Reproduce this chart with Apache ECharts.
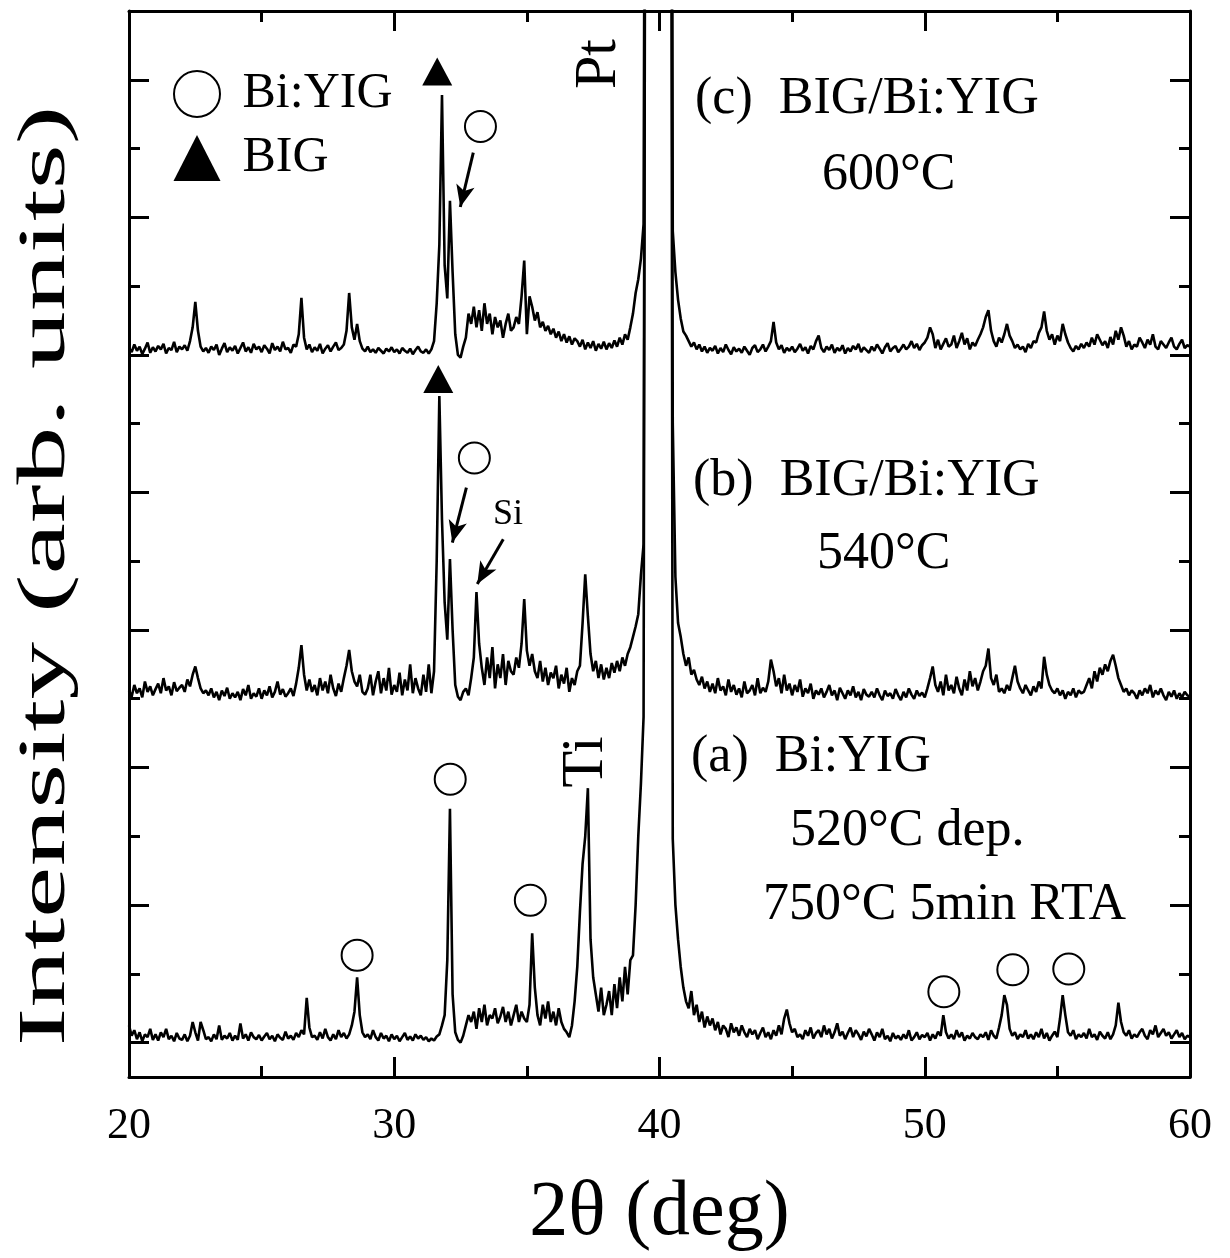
<!DOCTYPE html>
<html lang="en">
<head>
<meta charset="UTF-8" />
<title>XRD patterns</title>
<script src="https://cdn.jsdelivr.net/npm/echarts@6/dist/echarts.min.js"></script>
<style>
  html, body { margin: 0; background: #fff; }
  #chart { width: 1230px; height: 1258px; }
</style>
</head>
<body>
<div id="chart"></div>
<script>
// scan grid: 20.0 .. 60.0 deg, 0.1 deg per point (one row = 1 deg)
var angleStart = 20;
var angleStep = 0.1;

// (c) BIG/Bi:YIG 600C  (offset trace, arb. units, 100 = one tick)
var traceC = [
  1010,1004,1015,1006,1012,1001,1009,1018,1003,1011,
  1005,1013,1008,1016,1002,1010,1007,1019,1004,1012,
  1008,1014,1006,1020,1040,1077,1035,1012,1005,1010,
  1003,1012,1007,1015,1000,1009,1017,1004,1011,1006,
  1013,1002,1010,1018,1005,1011,1003,1016,1008,1012,
  1004,1014,1009,1002,1017,1007,1012,1005,1019,1008,
  1010,1003,1015,1012,1030,1083,1025,1008,1015,1004,
  1011,1006,1016,1002,1009,1014,1005,1012,1018,1007,
  1010,1015,1035,1090,1040,1022,1045,1020,1009,1005,
  1012,1004,1008,1003,1010,1006,1002,1009,1005,1011,
  1004,1008,1002,1010,1006,1003,1009,1001,1007,1012,
  1005,1003,1008,1002,1008,1020,1075,1160,1378,1130,
  1082,1224,1120,1030,1000,996,1012,1025,1060,1045,
  1070,1040,1065,1035,1075,1045,1060,1030,1055,1040,
  1050,1025,1045,1060,1035,1040,1055,1045,1085,1137,
  1030,1085,1070,1050,1062,1040,1048,1035,1042,1030,
  1038,1025,1034,1020,1030,1018,1027,1015,1024,1020,
  1012,1022,1008,1018,1010,1020,1006,1016,1009,1019,
  1008,1017,1010,1021,1012,1025,1015,1030,1022,1040,
  1060,1090,1110,1140,1190,2600,5200,8000,9500,10000,
  9800,9000,7500,5500,3000,1180,1120,1080,1053,1034,
  1028,1020,1012,1018,1008,1015,1005,1012,1003,1010,
  1006,1013,1002,1010,1004,1015,1007,1001,1011,1005,
  1009,1003,1012,1006,1000,1010,1014,1004,1008,1015,
  1005,1012,1020,1048,1018,1008,1014,1003,1010,1006,
  1012,1004,1009,1016,1006,1011,1002,1013,1008,1020,
  1028,1010,1004,1012,1007,1015,1003,1010,1006,1014,
  1002,1010,1005,1013,1008,1016,1004,1011,1007,1003,
  1012,1006,1015,1009,1002,1011,1017,1005,1010,1013,
  1004,1009,1015,1008,1012,1020,1010,1016,1007,1014,
  1018,1025,1040,1030,1010,1022,1008,1016,1024,1012,
  1015,1028,1010,1020,1032,1015,1024,1008,1018,1013,
  1022,1030,1040,1055,1065,1035,1020,1012,1025,1018,
  1030,1045,1028,1020,1010,1015,1008,1012,1004,1016,
  1010,1020,1018,1032,1040,1063,1035,1022,1030,1015,
  1028,1020,1045,1030,1018,1010,1005,1013,1008,1016,
  1010,1018,1012,1025,1015,1030,1022,1014,1020,1010,
  1026,1015,1035,1022,1040,1028,1012,1020,1008,1015,
  1012,1025,1018,1010,1022,1015,1030,1012,1008,1020,
  1015,1010,1018,1025,1012,1008,1016,1022,1010,1014,
  1012
];

// (b) BIG/Bi:YIG 540C
var traceB = [
  512,503,520,508,515,502,525,510,518,505,
  514,522,508,530,512,518,505,524,511,516,
  520,510,528,518,535,547,530,515,508,512,
  505,515,502,510,498,512,504,516,500,508,
  502,510,498,514,505,520,500,508,503,515,
  500,512,505,518,502,510,525,506,514,503,
  508,515,504,522,545,578,535,512,528,510,
  520,505,530,512,525,508,535,515,504,522,
  510,530,548,571,540,525,518,535,510,506,
  515,535,505,525,540,508,530,512,545,506,
  520,510,538,505,528,512,550,508,530,515,
  505,535,510,550,508,540,700,940,760,640,
  586,703,600,520,503,498,510,515,505,530,
  560,655,580,545,520,560,530,575,515,550,
  530,565,520,555,540,535,560,545,580,645,
  570,548,565,540,530,555,525,545,520,538,
  530,548,515,535,522,545,510,530,520,540,
  548,610,681,620,565,540,555,530,550,528,
  545,530,552,538,555,540,560,548,565,575,
  590,605,623,680,725,2600,5200,8000,9500,10000,
  9800,9000,7500,5500,3000,900,677,610,590,565,
  548,560,535,542,528,520,532,515,525,510,
  522,508,530,512,518,505,528,510,520,506,
  515,502,525,508,512,520,505,530,508,516,
  510,525,557,540,518,530,508,535,512,522,
  505,520,510,528,503,515,508,522,500,512,
  506,515,502,510,520,505,512,498,516,508,
  500,512,505,518,502,510,498,514,506,503,
  510,502,515,505,498,512,504,508,500,514,
  505,498,510,502,515,506,500,512,504,509,
  502,515,530,547,520,510,525,505,535,512,
  520,508,532,515,505,528,512,540,518,530,
  512,525,540,548,573,530,520,535,510,515,
  508,520,512,530,548,525,515,508,520,512,
  505,518,510,525,515,561,535,520,512,508,
  515,505,512,500,510,505,515,502,512,508,
  510,520,530,515,540,525,545,535,550,540,
  555,564,548,530,520,510,515,505,512,508,
  500,512,505,515,508,520,502,512,506,515,
  505,498,510,503,512,500,508,502,510,505,
  503
];

// (a) Bi:YIG 520C dep. + 750C 5min RTA
var traceA = [
  25,10,18,5,15,2,12,8,20,4,
  12,3,15,8,20,5,10,2,14,6,
  4,12,2,10,30,15,3,30,18,5,
  8,2,12,5,25,4,10,6,14,3,
  10,4,28,6,12,3,15,8,5,11,
  3,9,14,5,10,2,12,7,4,16,
  6,10,4,14,8,18,12,65,22,8,
  10,4,15,6,20,8,3,12,5,18,
  8,14,6,12,25,45,95,40,15,8,
  12,5,18,8,3,14,6,10,2,12,
  5,10,2,8,14,4,9,3,12,6,
  10,4,8,2,6,3,9,12,25,40,
  120,340,70,15,4,0,10,25,40,30,
  45,20,50,30,55,25,40,35,50,28,
  38,52,30,45,25,40,55,30,45,35,
  30,55,159,80,40,25,55,35,60,30,
  45,25,50,30,20,15,8,25,60,110,
  190,260,300,370,150,95,70,45,80,40,
  55,75,40,85,50,95,60,110,70,120,
  127,200,300,377,474,2600,5200,8000,9500,10000,
  9800,9000,7500,5500,3000,296,200,150,110,80,
  60,50,75,40,55,30,45,22,38,25,
  35,18,30,12,25,20,8,28,15,22,
  10,25,15,8,20,12,18,5,14,22,
  8,15,5,18,10,25,12,35,48,28,
  15,20,8,12,5,18,10,22,6,14,
  18,8,25,12,20,6,15,28,10,16,
  5,14,22,8,18,12,4,16,9,20,
  12,3,15,8,20,5,10,2,14,6,
  10,4,12,6,18,3,8,15,5,11,
  8,14,3,12,6,16,10,40,15,6,
  12,5,18,8,15,3,10,6,14,8,
  5,12,8,15,4,18,10,6,22,40,
  69,55,20,10,15,5,12,8,18,6,
  12,5,15,8,20,6,14,3,10,16,
  8,35,69,40,15,10,18,5,12,8,
  14,6,20,8,12,4,16,10,6,15,
  5,12,25,58,30,15,10,18,6,12,
  8,15,20,10,5,18,12,25,8,14,
  20,10,15,6,12,18,8,14,5,10,
  8
];

// peak markers [2theta, intensity]
var biyigMarks = [[28.6, 127], [32.11, 383], [35.13, 207], [50.72, 74], [53.32, 106], [55.43, 107],
                  [33.02, 850], [33.25, 1332]];
var bigMarks = [[31.66, 965], [31.62, 1412]];

// arrows: [tail, tip]
var arrows = [
  [[32.98, 1294], [32.49, 1215]],
  [[32.72, 807], [32.19, 727]],
  [[34.11, 732], [33.13, 667]]
];

var xTicks = [20, 30, 40, 50, 60];
var yTicksLong = [0, 200, 400, 600, 800, 1000, 1200, 1400];
var yTicksShort = [100, 300, 500, 700, 900, 1100, 1300];

var serif = '"Liberation Serif", "Times New Roman", serif';

function toPoints(vals) {
  return vals.map(function (v, i) {
    return [+(angleStart + i * angleStep).toFixed(1), v];
  });
}

function yAx(pos, ticks, len, showLine) {
  return {
    type: 'value', position: pos, min: -50, max: 1500, offset: 0,
    axisLine: { show: showLine, onZero: false, lineStyle: { color: '#000', width: 3 } },
    axisTick: { show: true, inside: true, length: len, customValues: ticks,
                lineStyle: { color: '#000', width: 3 } },
    axisLabel: { show: false },
    splitLine: { show: false }
  };
}

function xAx(pos, labels) {
  return {
    type: 'value', position: pos, min: xTicks[0], max: xTicks[xTicks.length - 1], interval: 10,
    axisLine: { show: true, onZero: false, lineStyle: { color: '#000', width: 3 } },
    axisTick: { show: true, inside: true, length: 20, lineStyle: { color: '#000', width: 3 } },
    minorTick: { show: true, splitNumber: 2, length: 11, lineStyle: { color: '#000', width: 3 } },
    axisLabel: { show: labels, color: '#000', fontFamily: serif, fontSize: 44, margin: 27 },
    splitLine: { show: false },
    name: labels ? '2\u03b8 (deg)' : '',
    nameLocation: 'middle', nameGap: 98,
    nameTextStyle: { color: '#000', fontFamily: serif, fontSize: 78 }
  };
}

function trace(name, vals) {
  return {
    name: name, type: 'line', data: toPoints(vals), showSymbol: false, silent: true,
    lineStyle: { color: '#000', width: 2.6 }, z: 2
  };
}

var notes = [
  { text: '(c)  BIG/Bi:YIG', x: 695, y: 99 },
  { text: '600\u00b0C', x: 822, y: 175 },
  { text: '(b)  BIG/Bi:YIG', x: 693, y: 481 },
  { text: '540\u00b0C', x: 817, y: 554 },
  { text: '(a)  Bi:YIG', x: 691, y: 757 },
  { text: '520\u00b0C dep.', x: 790, y: 831 },
  { text: '750\u00b0C 5min RTA', x: 763, y: 905 }
];

var graphics = notes.map(function (n) {
  return { type: 'text', x: n.x, y: n.y, silent: true,
    style: { text: n.text, font: '52px ' + serif, fill: '#000', textAlign: 'left', verticalAlign: 'middle' } };
});
// rotated peak names and the stretched y title
graphics.push(
  { type: 'text', x: 599, y: 64, rotation: Math.PI / 2, silent: true,
    style: { text: 'Pt', font: '60px ' + serif, fill: '#000', textAlign: 'center', verticalAlign: 'middle' } },
  { type: 'text', x: 586, y: 762, rotation: Math.PI / 2, silent: true,
    style: { text: 'Ti', font: '60px ' + serif, fill: '#000', textAlign: 'center', verticalAlign: 'middle' } },
  { type: 'text', x: 508, y: 515, silent: true,
    style: { text: 'Si', font: '36px ' + serif, fill: '#000', textAlign: 'center', verticalAlign: 'middle' } },
  { type: 'text', x: 46, y: 576, rotation: Math.PI / 2, scaleX: 1.7, silent: true,
    style: { text: 'Intensity (arb. units)', font: '68px ' + serif, fill: '#000', textAlign: 'center', verticalAlign: 'middle' } }
);

var option = {
  animation: false,
  backgroundColor: '#fff',
  grid: { left: 129, top: 11, width: 1061, height: 1071, containLabel: false },
  legend: {
    data: ['Bi:YIG', 'BIG'], orient: 'vertical', left: 168, top: 64,
    itemWidth: 47, itemHeight: 46, itemGap: 14, selectedMode: false,
    textStyle: { color: '#000', fontFamily: serif, fontSize: 50, lineHeight: 46, padding: [0, 0, 0, 17] }
  },
  xAxis: [xAx('bottom', true), xAx('top', false)],
  yAxis: [
    yAx('left', yTicksLong, 20, true),
    yAx('left', yTicksShort, 11, false),
    yAx('right', yTicksLong, 20, true),
    yAx('right', yTicksShort, 11, false)
  ],
  graphic: graphics,
  series: [
    trace('(a)', traceA),
    trace('(b)', traceB),
    trace('(c)', traceC),
    {
      name: 'Bi:YIG', type: 'scatter', data: biyigMarks, symbol: 'circle', symbolSize: 31, z: 3,
      itemStyle: { color: '#fff', borderColor: '#000', borderWidth: 2, opacity: 1 },
      markLine: {
        silent: true, symbol: ['none', 'arrow'], symbolSize: [14, 22],
        label: { show: false },
        lineStyle: { color: '#000', width: 3, type: 'solid' },
        data: arrows.map(function (a) { return [{ coord: a[0] }, { coord: a[1] }]; })
      }
    },
    {
      name: 'BIG', type: 'scatter', data: bigMarks, symbol: 'triangle', symbolSize: [30, 28], z: 3,
      itemStyle: { color: '#000', opacity: 1 }
    }
  ]
};

var chart = echarts.init(document.getElementById('chart'));
chart.setOption(option);
</script>
</body>
</html>
